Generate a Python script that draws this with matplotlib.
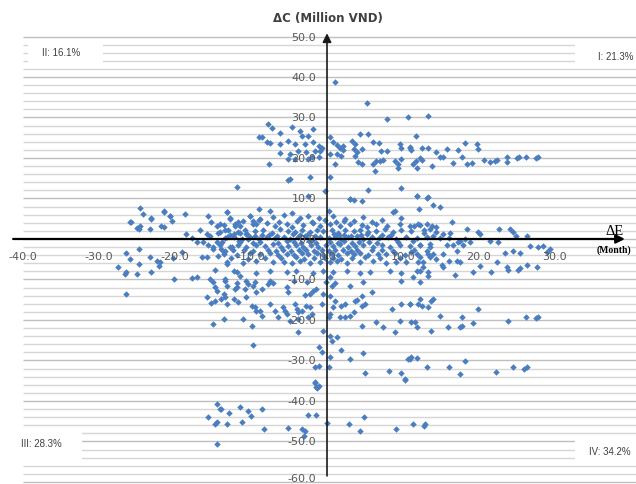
import matplotlib
matplotlib.use("Agg")
import matplotlib.pyplot as plt
from matplotlib.patches import Rectangle
import numpy as np

# ---------------- data ----------------
upper_left = [(-7.7,28.4),(-7.3,27.3),(-4.6,27.7),(-3.6,26.7),(-1.8,27.2),(-8.6,25.3),(-6.2,26.1),
 (-5.1,24.3),(-3.3,25.5),(-2.5,25.5),(-7.9,23.9),(-7.5,23.6),(-6.2,23.5),(-4.2,23.5),(-2.9,23.5),
 (-1.8,23.9),(-1.1,23.0),(-0.7,22.5),(-0.9,21.8),(-1.6,21.8),(-2.7,21.4),(-3.8,21.8),(-4.9,21.0),
 (-6.2,21.2),(-5.1,19.8),(-4.2,19.8),(-2.5,19.8),(-2.0,20.2),(-1.1,20.2),(-7.6,18.5),(-5.1,14.6),
 (-2.2,15.2),(-2.5,10.7),(-0.3,11.8),(-9.0,25.1),(-11.8,12.8),(-4.9,14.8)]

upper_right = [(1.05,38.7),(5.2,33.5),(7.9,29.6),(10.7,30.2),(0.4,15.2),(0.4,25.3),(0.8,23.9),(1.3,23.3),
 (1.7,22.5),(2.1,23.0),(2.1,21.9),(0.4,21.0),(1.3,21.0),(1.9,20.6),(1.1,18.4),(3.3,24.3),(3.7,23.5),
 (3.5,22.2),(3.9,21.4),(4.6,22.2),(3.7,20.6),(4.1,18.9),(4.6,18.5),(4.3,25.9),(5.4,25.9),(6.1,23.9),
 (6.8,23.6),(7.1,21.8),(7.9,21.8),(6.1,18.5),(6.5,19.2),(7.0,19.2),(7.4,19.5),(6.3,16.7),(8.9,19.2),
 (9.4,18.5),(9.8,19.8),(9.6,23.5),(9.8,22.5),(10.9,22.8),(11.1,22.0),(9.3,17.5),(5.4,12.1),(9.8,12.6),
 (3.0,9.9),(3.5,9.6),(4.6,9.3),(8.9,7.0),(13.3,30.4),(11.7,25.4),(10.9,22.5),(12.5,22.5),(13.3,22.5),
 (14.3,21.5),(14.9,20.2),(15.3,20.2),(15.8,22.2),(17.2,22.0),(18.2,23.7),(19.7,23.5),(19.9,22.2),
 (17.8,20.2),(16.6,18.7),(18.4,18.5),(19.1,18.7),(20.7,19.5),(21.4,19.0),(22.1,19.3),(22.4,19.5),
 (23.7,20.2),(23.7,19.0),(25.0,20.0),(25.3,20.2),(26.2,20.3),(27.5,20.0),(27.8,20.2),(11.7,19.3),
 (11.3,18.5),(11.8,17.5),(12.2,20.0),(12.5,19.5),(13.8,18.0),(11.8,10.6),(13.2,10.1),(12.1,7.4),
 (13.9,8.4),(14.9,7.9),(13.3,10.3),(8.7,6.6)]

center_band = [
 (-13.2,6.6),(-7.5,6.9),(-4.6,6.4),(0.2,6.8),
 (-12.8,5.2),(-10.1,5.6),(-8.8,5.0),(-7.1,5.5),(-5.7,5.9),(-3.6,5.1),(-2.5,5.6),(-1.1,5.3),(0.8,5.8),
 (2.4,5.0),(4.8,5.4),(9.8,5.2),
 (-11.0,4.4),(-8.9,4.6),(-6.3,4.2),(-4.0,4.5),(-2.0,4.3),(-0.2,4.7),(1.2,4.2),(2.2,4.5),(3.6,4.4),
 (5.9,4.3),(7.3,4.6),
 (-13.6,3.4),(-12.1,3.8),(-11.4,3.1),(-9.7,3.6),(-7.9,3.9),(-6.8,3.2),(-5.3,3.7),(-4.6,3.0),(-3.1,3.5),
 (-1.8,3.9),(-0.9,3.3),(0.4,3.6),(1.7,3.1),(3.0,3.8),(4.6,3.4),(5.2,3.0),(6.5,3.7),(7.9,3.2),(9.6,3.8),
 (10.9,3.1),(12.2,3.5),(13.8,3.3),
 (-14.1,1.8),(-13.0,2.2),(-11.7,1.7),(-10.8,2.3),(-9.5,1.9),(-8.4,2.1),(-7.3,1.6),(-6.2,2.4),(-5.1,2.0),
 (-4.2,1.7),(-3.3,2.2),(-2.2,1.8),(-1.3,2.3),(-0.5,1.9),(0.6,2.1),(1.5,1.6),(2.4,2.3),(3.5,1.9),(4.3,2.2),
 (5.4,1.7),(6.5,2.0),(7.6,2.4),(8.7,1.8),(9.8,2.1),(11.1,1.9),(12.7,2.2),(14.4,1.8),
 (-12.8,1.0),(-10.5,1.2),(-8.6,0.9),(-7.6,1.1),(-6.6,0.8),(-4.5,1.2),(-3.5,0.9),(-2.6,1.1),(-1.6,0.8),
 (0.9,1.2),(1.6,0.9),(2.2,1.1),(3.2,0.8),(4.5,1.0),(5.3,1.2),(7.3,0.9),(8.4,1.1),
 (-13.4,0.3),(-12.3,0.6),(-11.2,0.1),(-10.1,0.4),(-9.0,0.0),(-7.9,0.5),(-6.8,0.2),(-5.7,0.6),(-4.9,-0.1),
 (-3.8,0.4),(-2.9,0.7),(-1.8,0.1),(-0.9,0.5),(0.2,0.2),(1.1,0.6),(1.9,0.0),(2.8,0.4),(3.9,0.7),(4.8,0.1),
 (5.9,0.5),(6.9,0.2),(8.0,0.6),(9.1,0.0),(10.4,0.4),(11.8,0.3),(13.1,0.6),
 (-13.8,-0.8),(-11.6,-0.6),(-9.7,-0.9),(-8.8,-0.7),(-6.4,-1.0),(-5.3,-0.6),(-4.4,-0.8),(-3.4,-0.9),
 (-2.4,-0.6),(-1.5,-1.0),(0.4,-0.7),(1.4,-0.9),(2.3,-0.6),(3.3,-1.0),(4.2,-0.8),(5.5,-0.7),(6.6,-0.9),
 (9.4,-0.8),(11.3,-0.6),
 (-14.1,-1.5),(-12.8,-1.9),(-11.7,-1.4),(-10.6,-2.0),(-9.3,-1.6),(-8.2,-1.8),(-7.1,-1.3),(-6.0,-2.1),
 (-5.1,-1.7),(-4.1,-1.5),(-3.2,-1.9),(-2.1,-1.4),(-1.2,-2.0),(-0.1,-1.6),(0.8,-1.8),(1.7,-1.3),
 (2.8,-2.1),(3.7,-1.7),(4.8,-1.5),(6.1,-1.9),(7.2,-1.4),(8.3,-2.0),(9.6,-1.6),(10.9,-1.8),(12.2,-1.5),
 (13.6,-1.9),
 (-12.4,-2.8),(-10.9,-2.6),(-9.8,-3.0),(-7.8,-2.7),(-6.7,-2.9),(-5.8,-2.6),(-4.7,-3.0),(-3.7,-2.8),
 (-2.8,-2.6),(-1.7,-2.9),(-0.7,-2.7),(0.3,-3.0),(1.1,-2.6),(2.1,-2.8),(3.2,-2.9),(4.0,-2.6),(5.9,-2.8),
 (7.3,-2.7),(8.7,-3.0),(11.5,-2.8),
 (-13.6,-3.6),(-11.9,-3.9),(-10.1,-3.5),(-8.8,-3.8),(-7.5,-3.4),(-6.4,-4.0),(-5.3,-3.6),(-4.4,-3.9),
 (-3.3,-3.5),(-2.5,-3.8),(-1.3,-3.4),(-0.5,-4.0),(0.6,-3.6),(1.5,-3.9),(2.6,-3.5),(3.5,-3.8),(4.3,-3.4),
 (5.4,-3.9),(6.7,-3.6),(7.8,-3.8),(8.9,-3.5),(10.2,-3.9),(11.8,-3.6),(13.3,-3.8),
 (-12.6,-4.7),(-10.4,-4.9),(-8.2,-4.6),(-6.0,-4.8),(-4.1,-4.5),(-3.0,-4.9),(-1.7,-4.6),(-0.3,-4.8),
 (0.8,-4.6),(1.9,-4.9),(3.3,-4.7),(5.0,-4.5),(7.0,-4.8),(9.6,-4.6),
 (-13.2,-5.6),(-11.0,-5.9),(-9.3,-5.5),(-7.1,-5.8),(-5.7,-5.6),(-4.6,-6.0),(-3.6,-5.5),(-2.2,-5.9),
 (-0.9,-5.6),(0.4,-5.8),(1.3,-5.5),(2.6,-6.0),(4.3,-5.7),(6.1,-5.5),(7.8,-5.9),(9.1,-5.6),(10.4,-5.8),
 (12.6,-5.6),
 (-12.3,-8.0),(-9.3,-8.3),(-7.5,-7.9),(-5.3,-8.2),(-4.1,-7.8),(-1.8,-8.3),(-0.5,-8.0),(0.8,-8.2),
 (2.6,-7.9),(5.7,-8.2),(8.3,-8.0),(9.8,-8.3),(12.2,-7.9),(13.3,-8.1),
 (-13.4,-10.4),(-11.9,-10.8),(-9.5,-10.5),(-7.1,-10.9),(-4.4,-10.4),(-2.6,-10.7),(-0.1,-10.5),
 (1.1,-10.8),(4.8,-10.6),(9.8,-10.4),(12.2,-10.7),
 (11.8,10.7),(3.0,9.9),(-9.0,7.3)]

left_cluster = [(-24.6,7.6),(-24.2,6.2),(-25.8,4.1),(-25.0,2.6),(-24.6,3.3),(-23.1,5.1),(-23.3,2.5),
 (-21.5,6.6),(-20.7,5.8),(-20.4,4.5),(-21.8,3.3),(-21.5,2.9),(-18.7,6.2),(-18.5,1.2),(-17.8,0.2),
 (-17.1,-0.8),(-16.7,2.1),(-15.6,5.6),(-15.2,4.1),(-15.8,1.2),(-15.4,0.8),(-14.5,3.3),(-14.1,3.7),
 (-13.2,6.6),(-12.8,4.9),(-14.3,1.6),(-13.4,2.1),(-12.1,3.3),(-11.7,4.1),(-11.4,1.6),(-10.1,5.8),
 (-9.7,4.5),(-9.3,3.7),(-10.6,1.2),(-12.3,1.2),(-13.2,0.4),(-14.5,-0.8),(-15.6,-1.6),(-16.3,-0.8),
 (-15.0,-2.1),(-13.9,-2.5),(-13.4,-2.9),(-12.5,-2.1),(-11.4,-0.8),(-10.4,0.0),(-9.5,0.8),
 (-25.9,4.1),(-24.8,2.5),(-23.1,4.9),(-21.5,6.8),(-20.7,5.6),
 (-26.4,-3.5),(-25.9,-4.9),(-24.7,-2.5),(-23.3,-4.5),(-22.4,-5.4),(-22.1,-6.6),(-27.5,-7.0),
 (-26.4,-8.1),(-26.6,-8.6),(-25.0,-8.6),(-23.1,-8.2),(-20.1,-9.9),(-17.8,-9.6),(-17.1,-9.5),
 (-26.4,-13.6),(-16.5,-4.5),(-15.8,-4.5),(-24.8,-6.2),(-22.0,-5.8),(-20.2,-4.8),(-19.1,-3.3),
 (-15.0,-2.5),(-14.3,-4.1),(-13.6,-3.3),(-13.2,-6.2),(-14.7,-7.6),(-15.4,-9.9),(-15.0,-10.7),
 (-14.7,-11.9),(-14.5,-12.8),(-13.4,-9.9),(-13.2,-11.5),(-11.9,-8.2),(-11.4,-9.1),(-10.6,-10.3),
 (-10.4,-11.1),(-11.9,-11.9),(-12.1,-12.3),(-10.8,-12.3),(-9.7,-11.5),(-9.3,-13.2),(-15.8,-14.4),
 (-15.2,-15.8),(-14.7,-15.2),(-13.9,-14.8),(-13.6,-13.6),(-13.4,-14.4),(-13.2,-16.0),(-12.3,-14.8),
 (-11.7,-15.6),(-10.6,-14.4),(-9.9,-16.5),(-9.3,-17.7),(-15.0,-21.0),(-13.6,-19.8),(-11.0,-19.8),
 (-9.9,-21.4),(-9.7,-26.3)]

lower_mid = [(-8.6,-12.3),(-7.7,-11.1),(-7.5,-10.3),(-5.3,-11.9),(-5.1,-13.2),(-2.9,-13.8),(-2.2,-13.6),
 (-1.8,-12.8),(-1.4,-12.3),(-0.5,-13.6),(-9.5,-16.9),(-8.8,-17.7),(-7.5,-16.0),(-6.8,-17.7),(-5.8,-16.9),
 (-5.5,-17.9),(-4.2,-16.0),(-4.0,-17.3),(-3.8,-18.1),(-3.3,-17.7),(-2.7,-16.5),(-2.2,-16.9),(-0.7,-16.0),
 (-8.6,-18.9),(-6.4,-19.2),(-5.3,-18.5),(-4.9,-20.2),(-3.8,-19.8),(-2.5,-19.3),(-2.0,-18.5),(-3.8,-23.0),
 (-0.5,-22.6),(0.4,-23.9),(0.6,-25.1),(1.3,-24.3),(-1.1,-26.7),(-0.7,-28.0),(0.4,-29.2),(0.2,-31.7),
 (-1.6,-31.7),(-1.1,-31.3),(-1.6,-35.4),(-1.4,-36.6),(-1.1,-36.2),
 (0.4,-9.5),(0.6,-11.5),(0.4,-14.0),(1.1,-15.2),(0.8,-16.9),(0.4,-18.5),(0.2,-19.2),(1.9,-16.5),
 (2.4,-16.0),(3.7,-15.2),(3.9,-15.1),(4.6,-16.5),(5.0,-16.0),(5.9,-13.2),(4.6,-14.0),(1.7,-19.3),
 (2.4,-19.2),(3.0,-18.9),(3.5,-18.1),(3.0,-11.5),(4.3,-8.5),(4.6,-21.4),(6.5,-20.6),(7.4,-21.8),
 (8.5,-17.3),(9.6,-20.2),(9.8,-16.0),(10.9,-16.0),(11.1,-20.6),(8.9,-23.0),(1.9,-27.4),(3.0,-29.6),
 (4.8,-28.2),(5.0,-33.2),(8.1,-32.7),(9.8,-33.2),(10.3,-34.6),(10.7,-29.6),(11.1,-29.2)]

right_cluster = [(11.4,3.3),(12.0,3.7),(13.1,3.7),(13.6,2.5),(14.4,2.9),(12.7,1.6),(14.0,0.8),(15.3,1.2),
 (16.2,1.6),(16.0,0.2),(14.9,0.2),(13.6,-1.2),(12.2,-1.6),(13.1,-2.9),(14.0,-3.7),(15.3,-3.7),
 (15.8,-1.6),(16.6,-1.6),(17.3,-0.8),(17.5,-0.4),(18.2,0.0),(18.8,-0.8),(17.9,-1.6),(17.1,-2.9),
 (13.6,-4.5),(12.2,-4.5),(14.4,-4.9),(16.0,-5.4),(12.0,-5.8),(11.1,-3.3),
 (16.4,4.2),(18.4,2.5),(19.9,1.7),(20.1,1.2),(22.6,2.5),(24.1,2.5),(24.5,1.7),(26.3,0.7),(24.9,0.7),
 (26.7,-1.7),(27.8,-2.0),(28.4,-1.7),(29.3,-2.5),(28.9,-3.2),(21.4,-0.5),(22.5,-0.7),(23.4,-3.5),
 (24.5,-3.0),(25.4,-3.5),(22.4,-5.7),(23.7,-6.9),(23.8,-7.6),(25.1,-7.6),(25.4,-7.2),(26.3,-6.4),
 (27.6,-6.9),(19.2,-8.1),(21.6,-8.1),(20.1,-6.7),(17.1,-5.4),(17.5,-5.7),(16.8,-8.9),(15.1,-6.4),
 (15.3,-6.9),(13.3,-9.1),(12.6,-6.9),(11.8,-7.9),(11.3,-9.4),
 (12.2,-14.8),(12.0,-16.0),(12.5,-16.5),(13.3,-16.8),(13.7,-15.3),(13.9,-14.8),(10.9,-16.0),
 (14.9,-19.0),(17.8,-19.3),(19.9,-17.3),(11.6,-20.5),(11.8,-21.7),(13.7,-22.7),(15.9,-21.7),
 (17.5,-21.7),(17.8,-21.5),(19.2,-20.7),(23.8,-20.2),(26.2,-19.3),(27.5,-19.5),(27.8,-19.3),
 (10.9,-29.6),(11.8,-29.4),(13.2,-31.6),(16.1,-31.6),(17.5,-33.3),(18.2,-30.1),(22.2,-32.8),
 (24.5,-31.6),(25.9,-32.1),(26.3,-31.6)]

bottom_points = [(-1.6,-35.6),(-1.3,-36.9),(-13.9,-42.0),(-12.9,-43.0),(-11.4,-41.4),(-10.4,-42.5),
 (-10.0,-43.6),(-8.5,-42.0),(-13.1,-45.7),(-11.2,-45.3),(-8.3,-46.9),(-5.1,-46.7),(-3.3,-46.9),
 (-2.9,-47.5),(-3.0,-48.6),(-2.5,-43.5),(-1.4,-43.4),(0.0,-45.4),(2.9,-45.7),(4.3,-47.3),(4.9,-43.9),
 (9.1,-46.9),(11.3,-45.7),(12.7,-46.1),(12.9,-45.8),(10.2,-34.7),(-14.5,-40.7),(-14.1,-42.0),
 (-15.6,-44.0),(-14.7,-45.7),(-14.5,-45.1),(-14.5,-50.6)]

x_ticks = [-40, -30, -20, -10, 0, 10, 20, 30]
y_ticks = [50, 40, 30, 20, 10, 0, -10, -20, -30, -40, -50, -60]
quadrant_labels = ["II: 16.1%", "I: 21.3%", "III: 28.3%", "IV: 34.2%"]
title_text = "ΔC (Million VND)"

# ---------------- plotting ----------------
pts = np.array(upper_left + upper_right + center_band + left_cluster + lower_mid
               + right_cluster + bottom_points)

fig = plt.figure(figsize=(6.36, 4.85), dpi=100)
ax = fig.add_axes([0, 0, 1, 1])
ax.set_xlim(-43.03, 40.66)
ax.set_ylim(-60.5, 59.26)
ax.axis("off")

# horizontal gridlines (major every 10, minor every 2)
for gy in np.arange(-60, 51, 2):
    major = (gy % 10 == 0)
    ax.plot([-40.0, 40.66], [gy, gy], color="#bfbfbf" if major else "#d6d6d6",
            lw=1.0, zorder=1, solid_capstyle="butt")

# white boxes behind quadrant labels
boxes = [(-39.3, 42.5, 9.8, 6.4), (32.6, 42.5, 8.1, 6.4),
         (-43.1, -55.1, 10.9, 7.9), (32.6, -54.8, 8.1, 5.4)]
for bx, by, bw, bh in boxes:
    ax.add_patch(Rectangle((bx, by), bw, bh, facecolor="white", edgecolor="none", zorder=2))

# axes with arrows
ax.annotate("", xy=(39.2, 0), xytext=(-41.3, 0),
            arrowprops=dict(arrowstyle="-|>", color="black", lw=1.6, mutation_scale=13,
                            shrinkA=0, shrinkB=0), zorder=4)
ax.annotate("", xy=(0, 50.8), xytext=(0, -58.5),
            arrowprops=dict(arrowstyle="-|>", color="#1a1a1a", lw=1.2, mutation_scale=13,
                            shrinkA=0, shrinkB=0), zorder=4)

# scatter
ax.plot(pts[:, 0], pts[:, 1], linestyle="none", marker="D", ms=3.3,
        color="#4a7ec0", markeredgewidth=0, zorder=3)

# tick labels
for t in x_ticks:
    ax.text(t, -4.3, f"{t:.1f}", ha="center", va="center", fontsize=8,
            color="#595959", family="DejaVu Sans", zorder=5)
for t in y_ticks:
    ty = t if t > -60 else -59.0
    ax.text(-1.45, ty, f"{t:.1f}", ha="right", va="center", fontsize=8,
            color="#595959", family="DejaVu Sans", zorder=5)

# titles
ax.text(0.1, 54.8, title_text, ha="center", va="center", fontsize=8.5,
        fontweight="bold", color="#404040", family="DejaVu Sans")
ax.text(37.9, 2.0, "ΔE", ha="center", va="center", fontsize=10.5,
        color="black", family="Liberation Serif")
ax.text(37.8, -2.6, "(Month)", ha="center", va="center", fontsize=7,
        fontweight="bold", color="black", family="Liberation Serif")

# quadrant labels
label_pos = [(-35.0, 46.2), (38.0, 45.2), (-37.6, -50.4), (37.2, -52.3)]
for txt, (lx, ly) in zip(quadrant_labels, label_pos):
    ax.text(lx, ly, txt, ha="center", va="center", fontsize=7,
            color="#404040", family="Liberation Sans", zorder=5)

fig.savefig("out.png", dpi=100)
